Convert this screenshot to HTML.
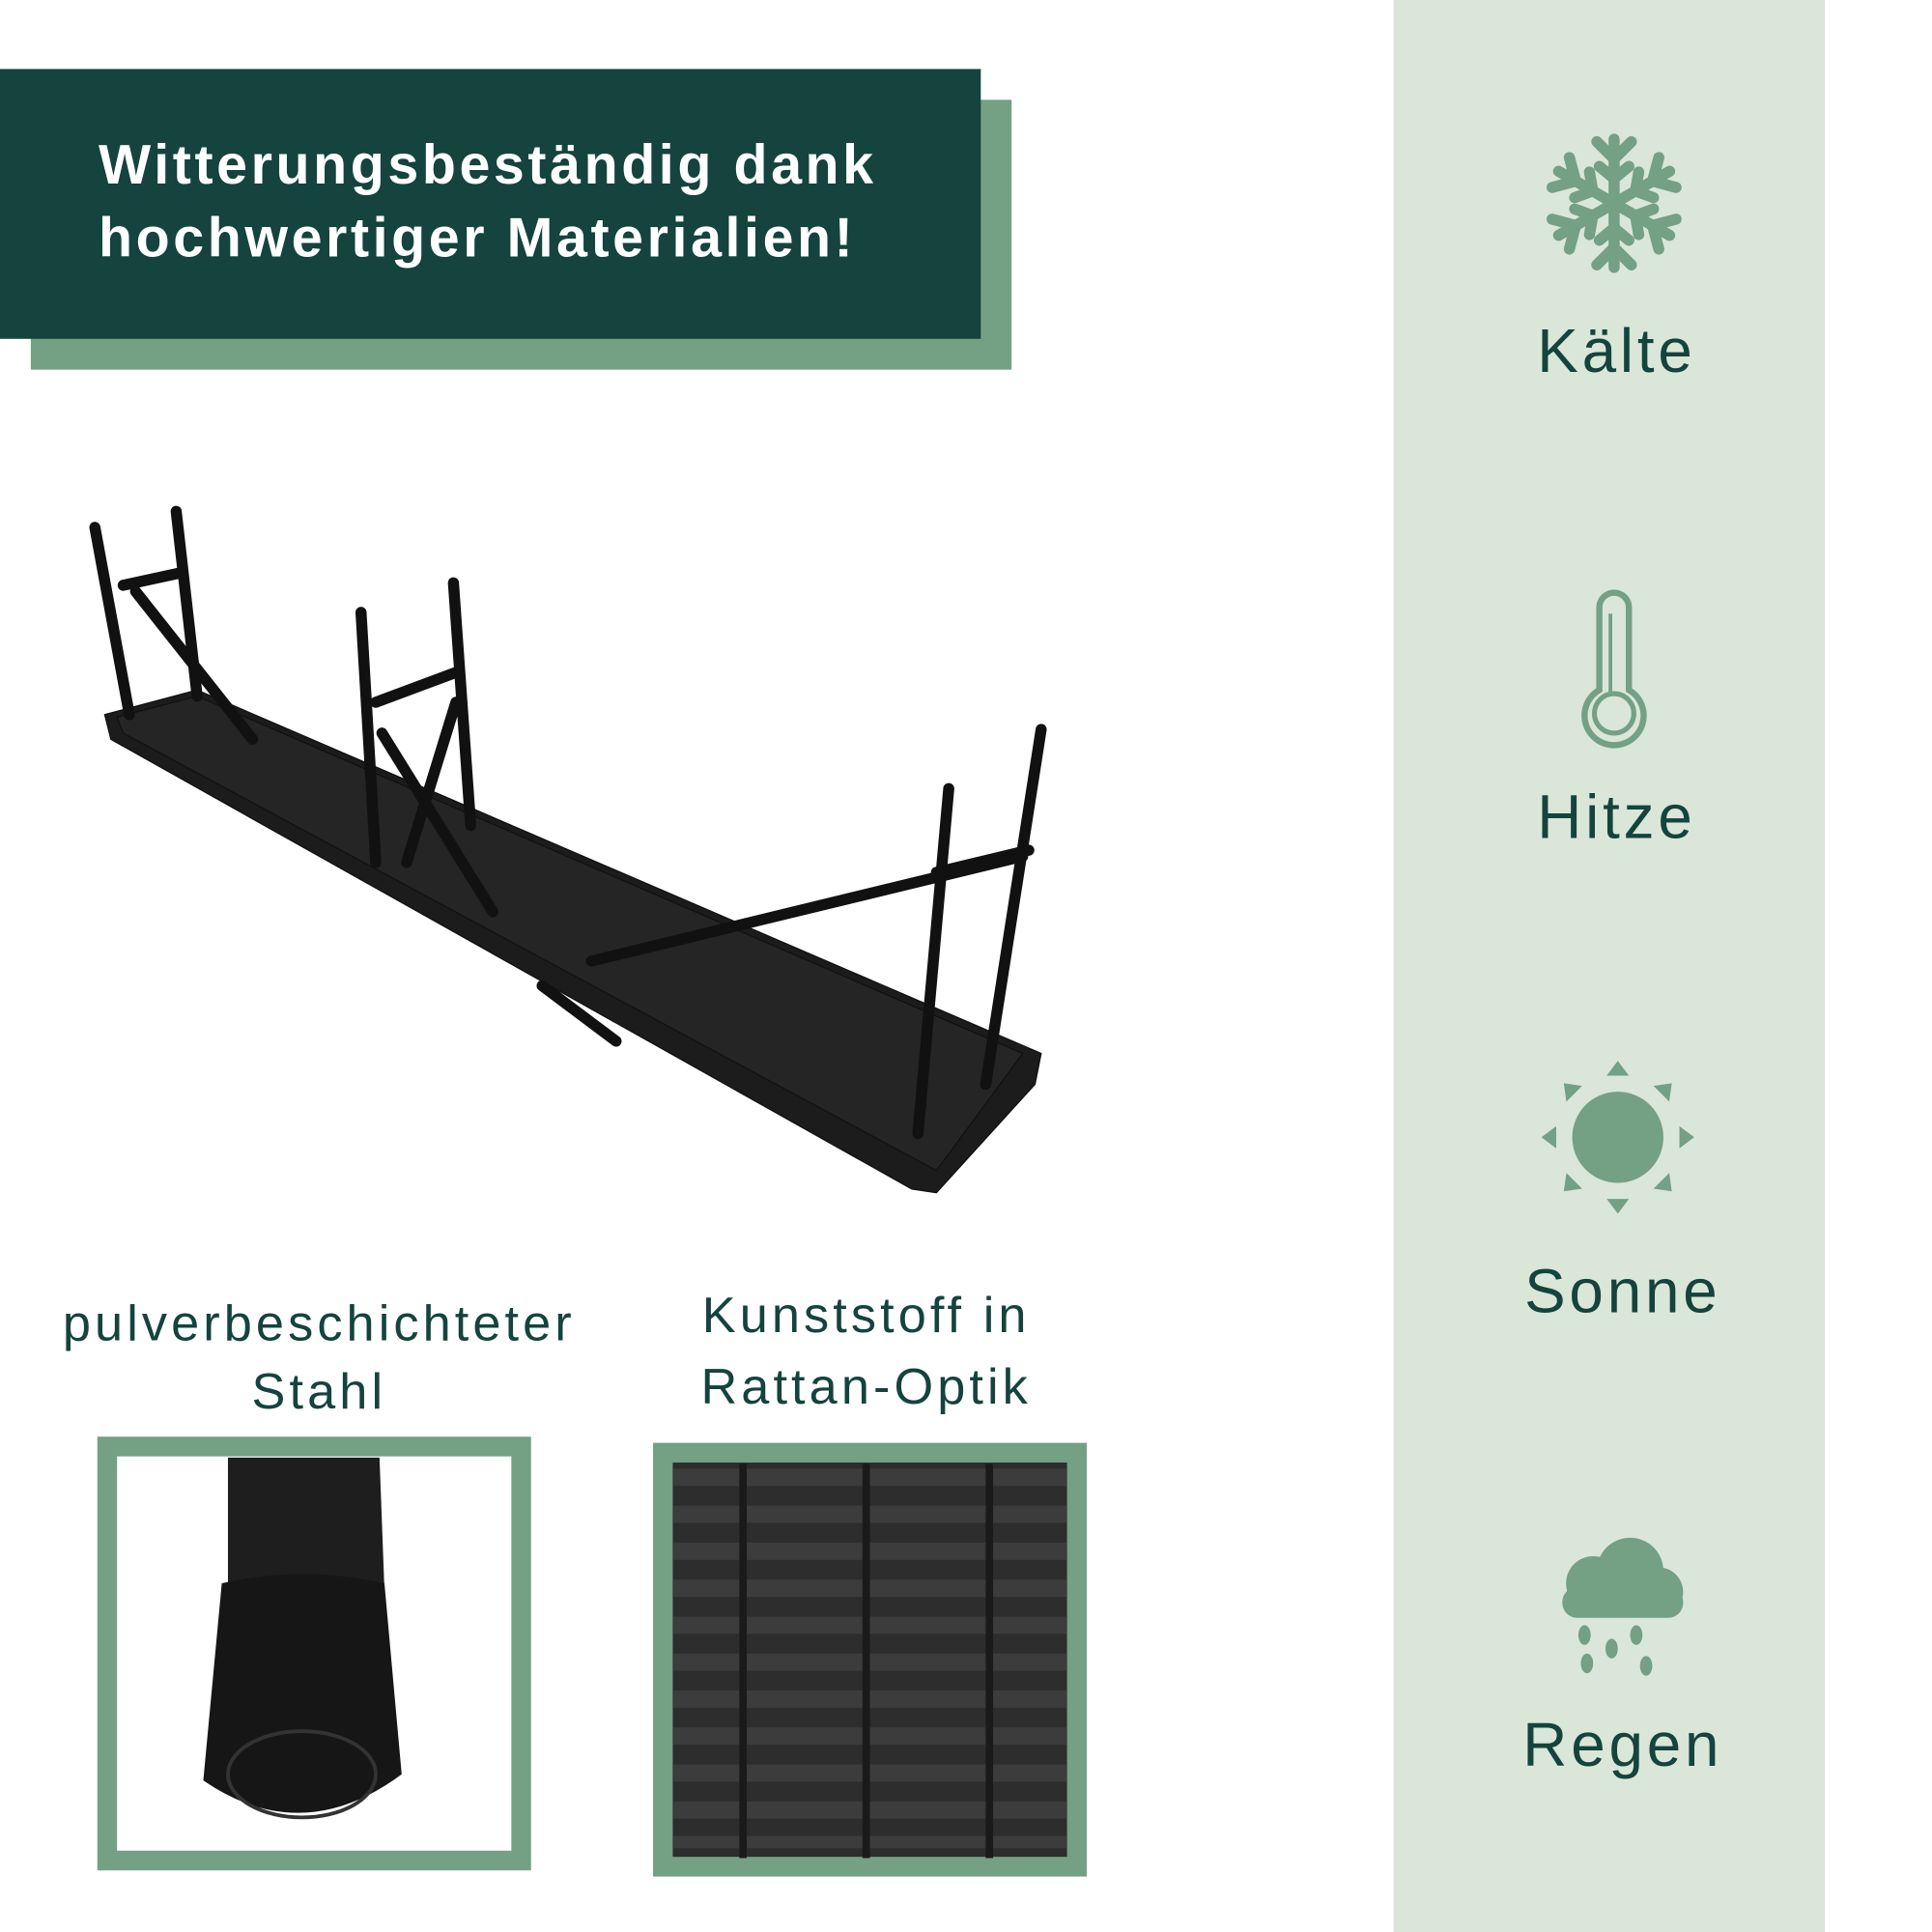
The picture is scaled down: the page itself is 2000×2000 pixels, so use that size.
<!DOCTYPE html>
<html><head><meta charset="utf-8"><style>
html,body{margin:0;padding:0;background:#fff;}
svg{display:block;}
text{font-family:"Liberation Sans","DejaVu Sans",sans-serif;}
</style></head><body>
<svg width="2000" height="2000" viewBox="0 0 1568 1568" xmlns="http://www.w3.org/2000/svg">
<rect width="1568" height="1568" fill="#fff"/>
<rect x="25" y="81" width="796" height="219" fill="#74a084"/>
<rect x="0" y="56" width="796" height="219" fill="#15433d"/>
<text x="80" y="149" fill="#fff" font-size="45" font-weight="bold" letter-spacing="2.8">Witterungsbeständig dank</text>
<text x="80" y="208" fill="#fff" font-size="45" font-weight="bold" letter-spacing="2.8">hochwertiger Materialien!</text>
<rect x="1131" y="0" width="350" height="1568" fill="#d9e6d8"/>
<g fill="#74a084" stroke="#74a084">
 <g transform="translate(1310,165)" stroke-width="9" stroke-linecap="round" fill="none">
  <g id="arm"><line x1="0" y1="0" x2="0" y2="-52"/><polyline points="-14,-50 0,-36 14,-50"/><polyline points="-12,-30 0,-20 12,-30"/></g>
  <use href="#arm" transform="rotate(60)"/><use href="#arm" transform="rotate(120)"/>
  <use href="#arm" transform="rotate(180)"/><use href="#arm" transform="rotate(240)"/><use href="#arm" transform="rotate(300)"/>
 </g>
 <g transform="translate(1310,543)" fill="none" stroke-width="5">
  <path d="M-12,17 V-50 a12,12 0 0 1 24,0 V17 a24,24 0 1 1 -24,0 Z"/>
  <circle cx="0" cy="36" r="16" stroke-width="4"/>
  <line x1="-3" y1="-45" x2="-3" y2="20" stroke-width="3"/>
 </g>
 <g transform="translate(1313,923)" stroke="none">
  <circle r="37"/>
  <g id="ray"><polygon points="-9,-50 9,-50 0,-62"/></g>
  <use href="#ray" transform="rotate(45)"/><use href="#ray" transform="rotate(90)"/><use href="#ray" transform="rotate(135)"/>
  <use href="#ray" transform="rotate(180)"/><use href="#ray" transform="rotate(225)"/><use href="#ray" transform="rotate(270)"/><use href="#ray" transform="rotate(315)"/>
 </g>
 <g transform="translate(1313,1300)" stroke="none">
  <circle cx="-20" cy="-15" r="22"/><circle cx="10" cy="-25" r="27"/><circle cx="33" cy="-8" r="20"/>
  <rect x="-45" y="-12" width="98" height="25" rx="12"/>
  <ellipse cx="-27" cy="27" rx="5" ry="8"/><ellipse cx="-5" cy="38" rx="5" ry="8"/><ellipse cx="15" cy="27" rx="5" ry="8"/><ellipse cx="-25" cy="50" rx="5" ry="8"/><ellipse cx="23" cy="52" rx="5" ry="8"/>
 </g>
</g>
<g fill="#15433d" font-size="50" text-anchor="middle" letter-spacing="3">
 <text x="1312" y="302">Kälte</text>
 <text x="1312" y="680">Hitze</text>
 <text x="1317" y="1065">Sonne</text>
 <text x="1317" y="1433">Regen</text>
</g>
<g fill="#1a1a1a" stroke="#111">
 <polygon points="85,580 160,560 845,855 840,880 760,968 740,965 90,600" fill="#1c1c1c"/>
 <polygon points="95,582 160,565 830,855 760,950 100,595" fill="#252525"/>
 <g stroke="#111" stroke-width="9" stroke-linecap="round" fill="none">
  <line x1="77" y1="428" x2="105" y2="580"/><line x1="143" y1="415" x2="160" y2="565"/>
  <line x1="100" y1="475" x2="146" y2="465"/><line x1="110" y1="480" x2="205" y2="600"/>
  <line x1="293" y1="497" x2="305" y2="700"/><line x1="368" y1="473" x2="382" y2="670"/>
  <line x1="305" y1="570" x2="372" y2="545"/><line x1="310" y1="595" x2="400" y2="740"/><line x1="370" y1="570" x2="330" y2="700"/>
  <line x1="770" y1="640" x2="745" y2="920"/><line x1="845" y1="592" x2="800" y2="880"/>
  <line x1="760" y1="708" x2="835" y2="690"/><line x1="480" y1="780" x2="830" y2="695"/><line x1="440" y1="800" x2="500" y2="845"/>
 </g>
</g>
<g fill="#15433d" font-size="41" text-anchor="middle" letter-spacing="3.2">
 <text x="259" y="1088">pulverbeschichteter</text>
 <text x="259" y="1143">Stahl</text>
 <text x="703" y="1081">Kunststoff in</text>
 <text x="703" y="1139">Rattan-Optik</text>
</g>
<rect x="87" y="1174" width="336" height="336" fill="#fff" stroke="#74a084" stroke-width="16"/>
<path d="M185,1183 H308 L312,1290 H185 Z" fill="#1e1e1e"/>
<path d="M180,1285 Q245,1270 312,1285 L326,1440 Q245,1500 165,1445 Z" fill="#161616"/>
<ellipse cx="245" cy="1440" rx="60" ry="35" fill="none" stroke="#333" stroke-width="3"/>
<rect x="538" y="1179" width="336" height="336" fill="#2d2d2d" stroke="#74a084" stroke-width="16"/>
<g fill="#3c3c3c">
 <rect x="546" y="1192" width="320" height="14"/><rect x="546" y="1222" width="320" height="14"/>
 <rect x="546" y="1252" width="320" height="14"/><rect x="546" y="1282" width="320" height="14"/>
 <rect x="546" y="1312" width="320" height="14"/><rect x="546" y="1342" width="320" height="14"/>
 <rect x="546" y="1372" width="320" height="14"/><rect x="546" y="1402" width="320" height="14"/>
 <rect x="546" y="1432" width="320" height="14"/><rect x="546" y="1462" width="320" height="14"/>
 <rect x="546" y="1490" width="320" height="10"/>
</g>
<g fill="#1a1a1a">
 <rect x="600" y="1188" width="6" height="320"/><rect x="700" y="1188" width="6" height="320"/><rect x="800" y="1188" width="6" height="320"/>
</g>
</svg>
</body></html>
